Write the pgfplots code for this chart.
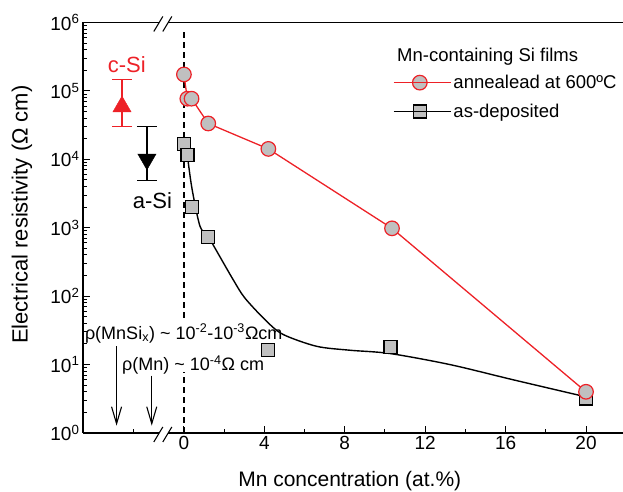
\documentclass[border=0pt]{standalone}
\usepackage{fontspec}
\setmainfont{Liberation Sans}
\usepackage{pgfplots}
\pgfplotsset{compat=1.18}
\usetikzlibrary{arrows.meta}
\definecolor{cred}{RGB}{237,33,39}
\definecolor{cgray}{RGB}{192,192,192}
\begin{document}
\begin{tikzpicture}
\begin{axis}[
  scale only axis, width=540pt, height=410.5pt,
  ymode=log, log basis y=10,
  xmin=-5.02, xmax=21.84, ymin=1, ymax=1e6,
  axis x line*=box, axis y line*=left,
  xtick pos=bottom, ytick pos=left,
  xtick={0,4,8,12,16,20},
  minor xtick={-2.5,2,6,10,14,18},
  tick align=inside,
  major tick length=7pt, minor tick length=4pt,
  every tick/.append style={black, line width=1pt},
  axis line style={line width=1.2pt},
  /pgf/number format/assume math mode=true,
  tick label style={font=\fontsize{19}{22}\selectfont},
  yticklabel={10\textsuperscript{\pgfmathparse{int(round(\tick))}\pgfmathresult}},
  xlabel={Mn concentration (at.\%)},
  ylabel={Electrical resistivity (Ω cm)},
  xlabel style={font=\fontsize{21}{25}\selectfont, at={(axis description cs:0.494,-0.117)}, anchor=center},
  ylabel style={font=\fontsize{22}{27}\selectfont, at={(axis description cs:-0.113,0.532)}, anchor=center},
  clip=false,
  legend cell align=left,
  legend style={at={(axis description cs:0.574,0.877)}, anchor=north west, draw=none, fill=none,
    font=\fontsize{18.5}{22}\selectfont, row sep=10pt, inner sep=0pt},
  legend image code/.code={\draw[#1, mark repeat=2, mark phase=2] plot coordinates {(0pt,0pt) (26pt,0pt) (52pt,0pt)};
    \path (0pt,0pt) -- (57pt,0pt);},
]
\addlegendimage{cred, line width=1.3pt, mark=*, mark size=7.3pt, mark options={fill=cgray, draw=cred, line width=1.2pt}}
\addlegendimage{black, line width=1.3pt, mark=square*, mark size=6.5pt, mark options={fill=cgray, draw=black, line width=1.2pt}}

% dashed line at x = 0
\addplot[black, line width=1.2pt, dash pattern=on 6pt off 4pt] coordinates {(0,1) (0,7.9)};
\addplot[black, line width=1.2pt, dash pattern=on 6pt off 4pt] coordinates {(0,48) (0,8.3e5)};

% c-Si and a-Si references
\addplot[only marks, cred, mark=triangle*, mark size=10.5pt,
  error bars/.cd, y dir=both, y explicit,
  error bar style={line width=1.2pt, cred},
  error mark options={rotate=90, mark size=10pt, line width=1.2pt, cred}]
  coordinates {(-3.08,5.9e4) += (0,8.8e4) -= (0,2.9e4)};
\addplot[only marks, black, mark=triangle*, mark size=10.5pt, mark options={rotate=180},
  error bars/.cd, y dir=both, y explicit,
  error bar style={line width=1.2pt, black},
  error mark options={rotate=90, mark size=10pt, line width=1.2pt, black}]
  coordinates {(-1.84,1.0e4) += (0,2.0e4) -= (0,5.1e3)};

% as-deposited fit curve
\addplot[black, line width=1.4pt, smooth] coordinates {
 (0.21,9.3e3) (0.41,3.6e3) (0.8,1.05e3) (1.21,740) (1.87,343) (2.45,174) (3.03,94)
 (4.11,43) (4.94,27.5) (6.6,18.5) (8.26,16.2) (10.25,14.5) (13.23,10) (16.37,6.0) (19.95,3.4)};
% as-deposited data
\addplot[only marks, mark=square*, mark size=6.5pt, mark options={fill=cgray, draw=black, line width=1.2pt}]
 coordinates {(0,1.69e4) (0.18,1.17e4) (0.41,2.0e3) (1.21,740) (4.2,16.2) (10.28,18.2) (19.98,3.2)};
% annealed
\addplot[cred, line width=1.3pt, mark=*, mark size=7.3pt, mark options={fill=cgray, draw=cred, line width=1.2pt}]
 coordinates {(0,1.74e5) (0.17,7.7e4) (0.38,7.7e4) (1.21,3.34e4) (4.2,1.42e4) (10.35,980) (20,4.0)};

\legend{annealead at 600ºC, as-deposited}

\node[text=cred, font=\fontsize{22}{26}\selectfont] at (axis cs:-2.84,2.43e5) {c-Si};
\node[font=\fontsize{22}{26}\selectfont] at (axis cs:-1.57,2.45e3) {a-Si};
\node[anchor=west, inner sep=0pt, font=\fontsize{18}{22}\selectfont] at (axis cs:-4.93,28.4)
  {ρ(MnSi\textsubscript{x}) \textasciitilde{} 10\textsuperscript{-2}-10\textsuperscript{-3}Ωcm};
\node[anchor=west, inner sep=0pt, font=\fontsize{18}{22}\selectfont] at (axis cs:-3.08,9.8)
  {ρ(Mn) \textasciitilde{} 10\textsuperscript{-4}Ω cm};
\node[anchor=west, inner sep=0pt, font=\fontsize{18.5}{22}\selectfont] at (axis cs:10.6,3.2e5)
  {Mn-containing Si films};

\draw[-{Straight Barb[length=17pt,width=10pt]}, line width=1.1pt] (axis cs:-3.35,18.5) -- (axis cs:-3.35,1.28);
\draw[-{Straight Barb[length=17pt,width=10pt]}, line width=1.1pt] (axis cs:-1.6,6.9) -- (axis cs:-1.6,1.28);

\coordinate (brB) at (axis cs:-1.05,1);
\coordinate (brT) at (axis cs:-1.05,1e6);
\coordinate (BL) at (axis description cs:-0.1537,-0.1437);
\coordinate (TR) at (axis description cs:1,1.0548);
\end{axis}
\foreach \c in {brB,brT} {
  \fill[white] ([shift={(-3.6pt,-2pt)}]\c) rectangle ([shift={(5.4pt,2pt)}]\c);
  \draw[line width=1.1pt] ([shift={(-9pt,-9pt)}]\c) -- ([shift={(0pt,6pt)}]\c);
  \draw[line width=1.1pt] ([shift={(0pt,-9pt)}]\c) -- ([shift={(9pt,6pt)}]\c);
}
\pgfresetboundingbox
\path[use as bounding box] (BL) rectangle (TR);
\end{tikzpicture}
\end{document}
